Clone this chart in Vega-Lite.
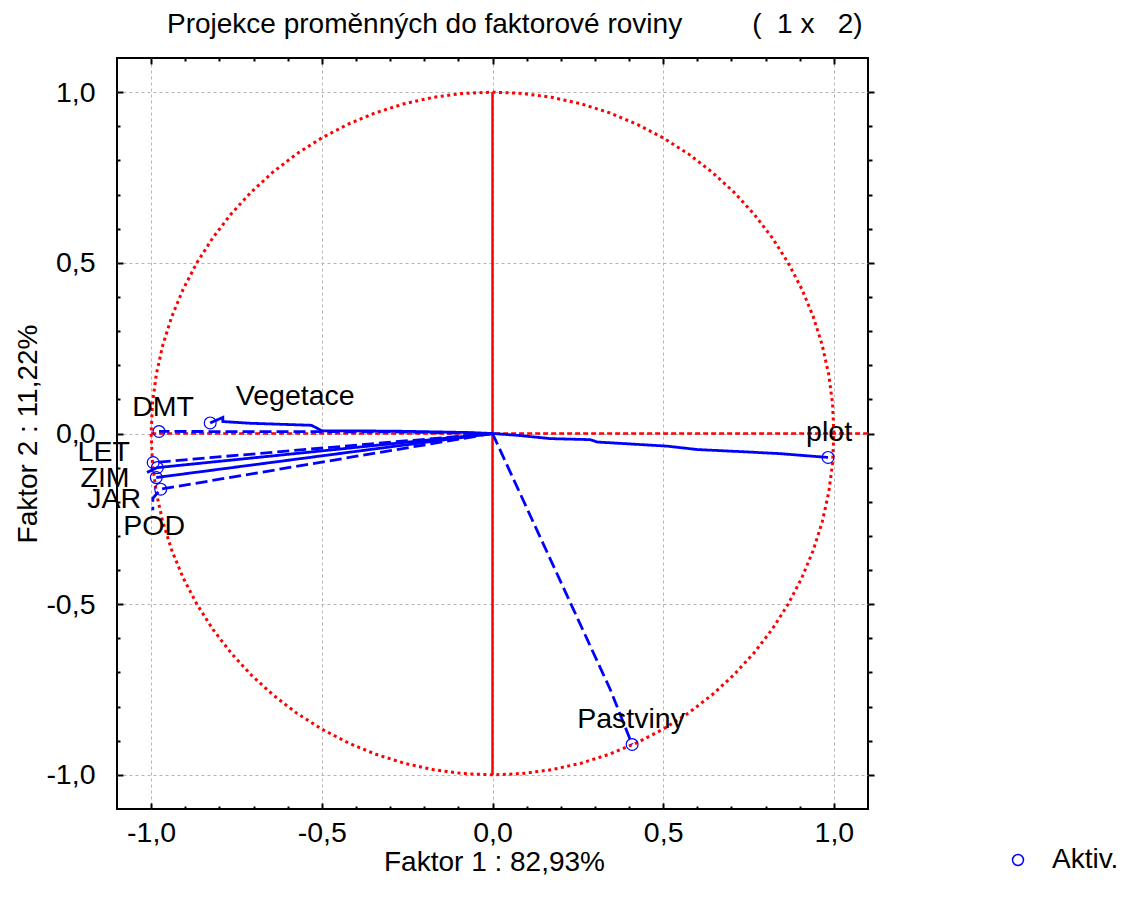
{
  "$schema": "https://vega.github.io/schema/vega-lite/v6.json",
  "autosize": {"type": "none"},
  "padding": {"left": 117, "top": 58, "right": 257, "bottom": 97},
  "width": 751,
  "height": 751,
  "background": "white",
  "config": {
    "view": {"stroke": "black", "strokeWidth": 2},
    "font": "Liberation Sans",
    "axis": {
      "domain": false,
      "tickColor": "black",
      "tickWidth": 2,
      "labelFontSize": 28.5,
      "labelColor": "black",
      "labelFont": "Liberation Sans",
      "titleFontSize": 28,
      "titleFontWeight": "normal",
      "titleColor": "black",
      "titleFont": "Liberation Sans",
      "gridColor": "#b4b4b4",
      "gridDash": [3, 3],
      "gridWidth": 1
    }
  },
  "title": {
    "text": "Projekce proměnných do faktorové roviny\u00a0\u00a0\u00a0\u00a0\u00a0\u00a0\u00a0\u00a0\u00a0(\u00a0\u00a01\u00a0x\u00a0\u00a0\u00a02)",
    "anchor": "start",
    "frame": "group",
    "dx": 50,
    "offset": 18,
    "fontSize": 28,
    "fontWeight": "normal",
    "font": "Liberation Sans",
    "color": "black"
  },
  "datasets": {
    "circle": [
      {"i":0,"x":1,"y":0},{"i":1,"x":0.9962,"y":0.0872},{"i":2,"x":0.9848,"y":0.1736},{"i":3,"x":0.9659,"y":0.2588},{"i":4,"x":0.9397,"y":0.342},{"i":5,"x":0.9063,"y":0.4226},{"i":6,"x":0.866,"y":0.5},{"i":7,"x":0.8192,"y":0.5736},{"i":8,"x":0.766,"y":0.6428},{"i":9,"x":0.7071,"y":0.7071},{"i":10,"x":0.6428,"y":0.766},{"i":11,"x":0.5736,"y":0.8192},{"i":12,"x":0.5,"y":0.866},{"i":13,"x":0.4226,"y":0.9063},{"i":14,"x":0.342,"y":0.9397},{"i":15,"x":0.2588,"y":0.9659},{"i":16,"x":0.1736,"y":0.9848},{"i":17,"x":0.0872,"y":0.9962},{"i":18,"x":0,"y":1},
      {"i":19,"x":-0.0872,"y":0.9962},{"i":20,"x":-0.1736,"y":0.9848},{"i":21,"x":-0.2588,"y":0.9659},{"i":22,"x":-0.342,"y":0.9397},{"i":23,"x":-0.4226,"y":0.9063},{"i":24,"x":-0.5,"y":0.866},{"i":25,"x":-0.5736,"y":0.8192},{"i":26,"x":-0.6428,"y":0.766},{"i":27,"x":-0.7071,"y":0.7071},{"i":28,"x":-0.766,"y":0.6428},{"i":29,"x":-0.8192,"y":0.5736},{"i":30,"x":-0.866,"y":0.5},{"i":31,"x":-0.9063,"y":0.4226},{"i":32,"x":-0.9397,"y":0.342},{"i":33,"x":-0.9659,"y":0.2588},{"i":34,"x":-0.9848,"y":0.1736},{"i":35,"x":-0.9962,"y":0.0872},{"i":36,"x":-1,"y":0},
      {"i":37,"x":-0.9962,"y":-0.0872},{"i":38,"x":-0.9848,"y":-0.1736},{"i":39,"x":-0.9659,"y":-0.2588},{"i":40,"x":-0.9397,"y":-0.342},{"i":41,"x":-0.9063,"y":-0.4226},{"i":42,"x":-0.866,"y":-0.5},{"i":43,"x":-0.8192,"y":-0.5736},{"i":44,"x":-0.766,"y":-0.6428},{"i":45,"x":-0.7071,"y":-0.7071},{"i":46,"x":-0.6428,"y":-0.766},{"i":47,"x":-0.5736,"y":-0.8192},{"i":48,"x":-0.5,"y":-0.866},{"i":49,"x":-0.4226,"y":-0.9063},{"i":50,"x":-0.342,"y":-0.9397},{"i":51,"x":-0.2588,"y":-0.9659},{"i":52,"x":-0.1736,"y":-0.9848},{"i":53,"x":-0.0872,"y":-0.9962},{"i":54,"x":0,"y":-1},
      {"i":55,"x":0.0872,"y":-0.9962},{"i":56,"x":0.1736,"y":-0.9848},{"i":57,"x":0.2588,"y":-0.9659},{"i":58,"x":0.342,"y":-0.9397},{"i":59,"x":0.4226,"y":-0.9063},{"i":60,"x":0.5,"y":-0.866},{"i":61,"x":0.5736,"y":-0.8192},{"i":62,"x":0.6428,"y":-0.766},{"i":63,"x":0.7071,"y":-0.7071},{"i":64,"x":0.766,"y":-0.6428},{"i":65,"x":0.8192,"y":-0.5736},{"i":66,"x":0.866,"y":-0.5},{"i":67,"x":0.9063,"y":-0.4226},{"i":68,"x":0.9397,"y":-0.342},{"i":69,"x":0.9659,"y":-0.2588},{"i":70,"x":0.9848,"y":-0.1736},{"i":71,"x":0.9962,"y":-0.0872},{"i":72,"x":1,"y":0}
    ],
    "hrule": [{"x": -1, "x2": 1.1, "y": 0}],
    "vrule": [{"x": 0, "y": -1, "y2": 1}],
    "vectors": [
      {"v":"plot","style":"solid","o":0,"x":0,"y":0},
      {"v":"plot","style":"solid","o":1,"x":0.081,"y":-0.006},
      {"v":"plot","style":"solid","o":2,"x":0.169,"y":-0.015},
      {"v":"plot","style":"solid","o":3,"x":0.286,"y":-0.018},
      {"v":"plot","style":"solid","o":4,"x":0.307,"y":-0.025},
      {"v":"plot","style":"solid","o":5,"x":0.511,"y":-0.037},
      {"v":"plot","style":"solid","o":6,"x":0.6,"y":-0.047},
      {"v":"plot","style":"solid","o":7,"x":0.746,"y":-0.054},
      {"v":"plot","style":"solid","o":8,"x":0.842,"y":-0.059},
      {"v":"plot","style":"solid","o":9,"x":0.968,"y":-0.069},
      {"v":"plot","style":"solid","o":10,"x":0.983,"y":-0.07},
      {"v":"Pastviny","style":"dashed","o":0,"x":0,"y":0},
      {"v":"Pastviny","style":"dashed","o":1,"x":0.345,"y":-0.75},
      {"v":"Pastviny","style":"dashed","o":2,"x":0.409,"y":-0.911},
      {"v":"Vegetace","style":"solid","o":0,"x":0,"y":0},
      {"v":"Vegetace","style":"solid","o":1,"x":-0.075,"y":0.003},
      {"v":"Vegetace","style":"solid","o":2,"x":-0.29,"y":0.007},
      {"v":"Vegetace","style":"solid","o":3,"x":-0.5,"y":0.008},
      {"v":"Vegetace","style":"solid","o":4,"x":-0.53,"y":0.024},
      {"v":"Vegetace","style":"solid","o":5,"x":-0.71,"y":0.03},
      {"v":"Vegetace","style":"solid","o":6,"x":-0.79,"y":0.035},
      {"v":"Vegetace","style":"solid","o":7,"x":-0.79,"y":0.047},
      {"v":"Vegetace","style":"solid","o":8,"x":-0.827,"y":0.031},
      {"v":"DMT","style":"dashed","o":0,"x":0,"y":0},
      {"v":"DMT","style":"dashed","o":1,"x":-0.3,"y":0.005},
      {"v":"DMT","style":"dashed","o":2,"x":-0.977,"y":0.006},
      {"v":"LET","style":"dashed","o":0,"x":0,"y":0},
      {"v":"LET","style":"dashed","o":1,"x":-0.994,"y":-0.085},
      {"v":"ZIM","style":"solid","o":0,"x":0,"y":0},
      {"v":"ZIM","style":"solid","o":1,"x":-0.982,"y":-0.1},
      {"v":"ZIM","style":"solid","o":2,"x":-1.012,"y":-0.114},
      {"v":"JAR","style":"solid","o":0,"x":0,"y":0},
      {"v":"JAR","style":"solid","o":1,"x":-0.985,"y":-0.129},
      {"v":"POD","style":"dashed","o":0,"x":0,"y":0},
      {"v":"POD","style":"dashed","o":1,"x":-0.972,"y":-0.163},
      {"v":"POD","style":"dashed","o":2,"x":-0.995,"y":-0.19},
      {"v":"POD","style":"dashed","o":3,"x":-0.995,"y":-0.225}
    ],
    "points": [
      {"v":"plot","x":0.983,"y":-0.07},
      {"v":"Pastviny","x":0.409,"y":-0.911},
      {"v":"Vegetace","x":-0.827,"y":0.031},
      {"v":"DMT","x":-0.977,"y":0.006},
      {"v":"LET","x":-0.994,"y":-0.085},
      {"v":"ZIM","x":-0.982,"y":-0.1},
      {"v":"JAR","x":-0.985,"y":-0.129},
      {"v":"POD","x":-0.972,"y":-0.163}
    ],
    "labels": [
      {"v":"plot","x":0.986,"y":0.003},
      {"v":"Pastviny","x":0.406,"y":-0.835},
      {"v":"Vegetace","x":-0.578,"y":0.111},
      {"v":"DMT","x":-0.965,"y":0.079},
      {"v":"LET","x":-1.139,"y":-0.053},
      {"v":"ZIM","x":-1.135,"y":-0.129},
      {"v":"JAR","x":-1.108,"y":-0.193},
      {"v":"POD","x":-0.991,"y":-0.272}
    ]
  },
  "layer": [
    {
      "data": {"name": "circle"},
      "mark": {"type": "line", "color": "#ff0000", "strokeWidth": 3, "strokeDash": [3, 3.5]},
      "encoding": {
        "x": {
          "field": "x", "type": "quantitative",
          "scale": {"domain": [-1.1, 1.1], "nice": false, "zero": false},
          "axis": {
            "orient": "bottom",
            "values": [-1, -0.5, 0, 0.5, 1],
            "grid": true,
            "ticks": false,
            "labelExpr": "replace((datum.value < -0.001 ? '-' : '') + format(abs(datum.value), '.1f'), '.', ',')",
            "labelPadding": 9,
            "labelFlush": false,
            "labelOverlap": false,
            "title": "Faktor 1 : 82,93%",
            "titleX": 377,
            "titleY": 53,
            "titleAlign": "center",
            "titleBaseline": "middle"
          }
        },
        "y": {
          "field": "y", "type": "quantitative",
          "scale": {"domain": [-1.1, 1.1], "nice": false, "zero": false},
          "axis": {
            "orient": "left",
            "values": [-1, -0.5, 0, 0.5, 1],
            "grid": true,
            "ticks": false,
            "labelExpr": "replace((datum.value < -0.001 ? '-' : '') + format(abs(datum.value), '.1f'), '.', ',')",
            "labelPadding": 22,
            "labelFlush": false,
            "labelOverlap": false,
            "title": "Faktor 2 : 11,22%",
            "titleX": -89,
            "titleY": 375.5,
            "titleAlign": "center",
            "titleBaseline": "middle"
          }
        },
        "order": {"field": "i", "type": "quantitative"}
      }
    },
    {
      "data": {"name": "hrule"},
      "mark": {"type": "rule", "color": "#ff0000", "strokeWidth": 2.5, "strokeDash": [5, 3]},
      "encoding": {
        "x": {
          "field": "x", "type": "quantitative",
          "axis": {"orient": "bottom", "values": [-1, -0.5, 0, 0.5, 1], "grid": false, "labels": false, "title": null, "tickSize": 6, "offset": -6}
        },
        "x2": {"field": "x2"},
        "y": {
          "field": "y", "type": "quantitative",
          "axis": {"orient": "left", "values": [-1, -0.5, 0, 0.5, 1], "grid": false, "labels": false, "title": null, "tickSize": 6, "offset": -6}
        }
      }
    },
    {
      "data": {"name": "vrule"},
      "mark": {"type": "rule", "color": "#ff0000", "strokeWidth": 2.5},
      "encoding": {
        "x": {
          "field": "x", "type": "quantitative",
          "axis": {"orient": "bottom", "values": [-0.9, -0.8, -0.7, -0.6, -0.4, -0.3, -0.2, -0.1, 0.1, 0.2, 0.3, 0.4, 0.6, 0.7, 0.8, 0.9], "grid": false, "labels": false, "title": null, "tickSize": 3, "offset": -3}
        },
        "y": {
          "field": "y", "type": "quantitative",
          "axis": {"orient": "left", "values": [-0.9, -0.8, -0.7, -0.6, -0.4, -0.3, -0.2, -0.1, 0.1, 0.2, 0.3, 0.4, 0.6, 0.7, 0.8, 0.9], "grid": false, "labels": false, "title": null, "tickSize": 3, "offset": -3}
        },
        "y2": {"field": "y2"}
      }
    },
    {
      "data": {"name": "vectors"},
      "mark": {"type": "line", "color": "#0000ff", "strokeWidth": 2.8},
      "encoding": {
        "x": {
          "field": "x", "type": "quantitative",
          "axis": {"orient": "top", "values": [-1, -0.5, 0, 0.5, 1], "grid": false, "labels": false, "title": null, "tickSize": 6, "offset": -6}
        },
        "y": {
          "field": "y", "type": "quantitative",
          "axis": {"orient": "right", "values": [-1, -0.5, 0, 0.5, 1], "grid": false, "labels": false, "title": null, "tickSize": 6}
        },
        "detail": {"field": "v"},
        "order": {"field": "o", "type": "quantitative"},
        "strokeDash": {
          "field": "style", "type": "nominal",
          "scale": {"domain": ["solid", "dashed"], "range": [[1, 0], [12, 5]]},
          "legend": null
        }
      }
    },
    {
      "data": {"name": "points"},
      "mark": {"type": "point", "shape": "circle", "filled": false, "size": 140, "strokeWidth": 1.2, "opacity": 1},
      "encoding": {
        "x": {
          "field": "x", "type": "quantitative",
          "axis": {"orient": "top", "values": [-0.9, -0.8, -0.7, -0.6, -0.4, -0.3, -0.2, -0.1, 0.1, 0.2, 0.3, 0.4, 0.6, 0.7, 0.8, 0.9], "grid": false, "labels": false, "title": null, "tickSize": 3, "offset": -3}
        },
        "y": {
          "field": "y", "type": "quantitative",
          "axis": {"orient": "right", "values": [-0.9, -0.8, -0.7, -0.6, -0.4, -0.3, -0.2, -0.1, 0.1, 0.2, 0.3, 0.4, 0.6, 0.7, 0.8, 0.9], "grid": false, "labels": false, "title": null, "tickSize": 4}
        },
        "color": {
          "datum": "Aktiv.",
          "scale": {"range": ["#0000ff"]},
          "legend": {
            "orient": "none",
            "legendX": 887,
            "legendY": 788,
            "title": null,
            "padding": 0,
            "labelFontSize": 28,
            "labelColor": "black",
            "labelFont": "Liberation Sans",
            "labelOffset": 20,
            "symbolSize": 120,
            "symbolStrokeWidth": 1.5,
            "symbolType": "circle"
          }
        }
      }
    },
    {
      "data": {"name": "labels"},
      "mark": {"type": "text", "fontSize": 28.5, "font": "Liberation Sans", "color": "black", "align": "center", "baseline": "middle"},
      "encoding": {
        "x": {"field": "x", "type": "quantitative", "axis": null},
        "y": {"field": "y", "type": "quantitative", "axis": null},
        "text": {"field": "v"}
      }
    }
  ],
  "resolve": {"axis": {"x": "independent", "y": "independent"}}
}
